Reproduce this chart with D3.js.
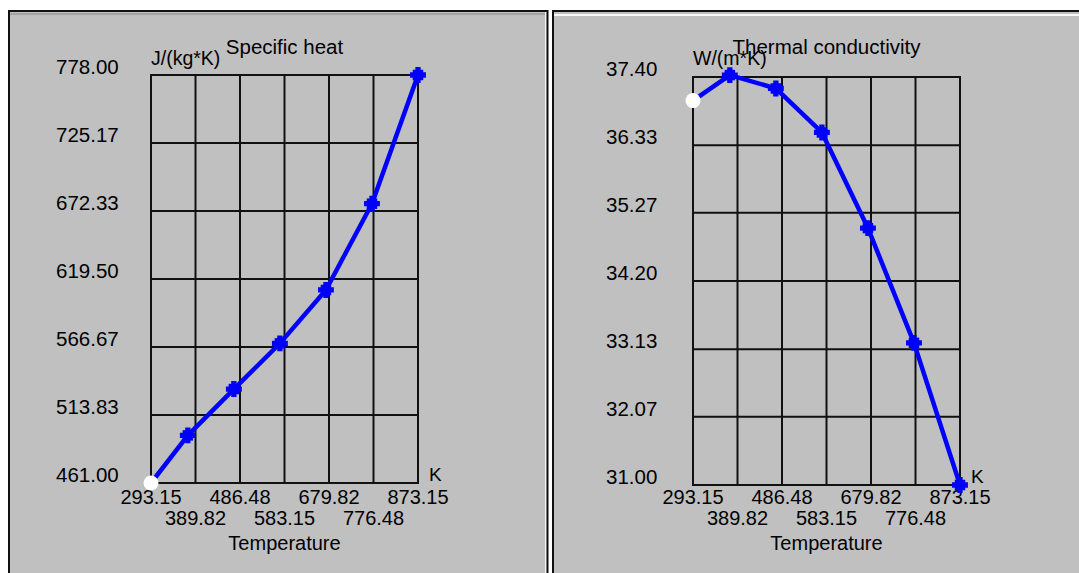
<!DOCTYPE html>
<html>
<head>
<meta charset="utf-8">
<script src="https://cdn.jsdelivr.net/npm/d3@7"></script>
<style>
  html, body { margin: 0; padding: 0; background: #ffffff; }
  svg { display: block; }
  text { font-family: "Liberation Sans", Arial, sans-serif; fill: #000; }
</style>
</head>
<body>
<svg id="chart" width="1079" height="573"></svg>
<script>
// Steel properties versus temperature (20 °C ... 600 °C)
const temperatures = [293.15, 373.15, 473.15, 573.15, 673.15, 773.15, 873.15];
const specificHeat = [461.0, 498.0, 534.0, 569.5, 611.0, 678.0, 778.0];
const thermalConductivity = [37.03, 37.43, 37.22, 36.53, 35.03, 33.23, 31.0];

// Axis tick labels
const temperatureTicks = ["293.15", "389.82", "486.48", "583.15", "679.82", "776.48", "873.15"];
const heatTicks = ["461.00", "513.83", "566.67", "619.50", "672.33", "725.17", "778.00"];
const conductivityTicks = ["31.00", "32.07", "33.13", "34.20", "35.27", "36.33", "37.40"];

// Panel layout
const panels = [
  {
    title: "Specific heat", unit: "J/(kg*K)",
    values: specificHeat, ticks: heatTicks,
    frame: { x: 8, y: 10, w: 540 },
    plot: { left: 151, right: 418, top: 75, bottom: 483 },
    labelX: 56
  },
  {
    title: "Thermal conductivity", unit: "W/(m*K)",
    values: thermalConductivity, ticks: conductivityTicks,
    frame: { x: 552, y: 10, w: 540 },
    plot: { left: 693, right: 960, top: 77, bottom: 485 },
    labelX: 606
  }
];

const svg = d3.select("#chart");

panels.forEach((p, pi) => {
  const g = svg.append("g");
  const f = p.frame;

  // Panel background and bevelled border
  g.append("rect").attr("x", f.x).attr("y", f.y).attr("width", f.w).attr("height", 600)
    .attr("fill", "#c0c0c0");
  if (pi === 0) {
    g.append("rect").attr("x", f.x + 2).attr("y", f.y + 3).attr("width", f.w - 4).attr("height", 2).attr("fill", "#a4a4a4");
    g.append("rect").attr("x", f.x + f.w - 3).attr("y", f.y + 2).attr("width", 1.5).attr("height", 600).attr("fill", "#f4f4f4");
    g.append("rect").attr("x", f.x).attr("y", f.y).attr("width", 2).attr("height", 600).attr("fill", "#111");
    g.append("rect").attr("x", f.x).attr("y", f.y).attr("width", f.w).attr("height", 2).attr("fill", "#111");
    g.append("rect").attr("x", f.x + f.w - 1.5).attr("y", f.y).attr("width", 2).attr("height", 600).attr("fill", "#111");
  } else {
    g.append("rect").attr("x", f.x + 2).attr("y", f.y + 4).attr("width", f.w).attr("height", 2).attr("fill", "#f8f8f8");
    g.append("rect").attr("x", f.x).attr("y", f.y).attr("width", 2).attr("height", 600).attr("fill", "#111");
    g.append("rect").attr("x", f.x).attr("y", f.y).attr("width", f.w).attr("height", 2).attr("fill", "#111");
  }

  const pl = p.plot;
  const tickNums = p.ticks.map(Number);
  const x = d3.scaleLinear()
    .domain([+temperatureTicks[0], +temperatureTicks[temperatureTicks.length - 1]])
    .range([pl.left, pl.right]);
  const y = d3.scaleLinear()
    .domain([tickNums[0], tickNums[tickNums.length - 1]])
    .range([pl.bottom, pl.top]);

  // Grid
  const grid = g.append("g").attr("stroke", "#111").attr("stroke-width", 2);
  temperatureTicks.forEach(t => {
    grid.append("line").attr("x1", x(+t)).attr("x2", x(+t))
      .attr("y1", y.range()[1]).attr("y2", y.range()[0]);
  });
  tickNums.forEach(v => {
    grid.append("line").attr("x1", pl.left - 1).attr("x2", pl.right + 1)
      .attr("y1", y(v)).attr("y2", y(v));
  });

  // Y tick labels
  g.append("g").selectAll("text").data(p.ticks).join("text")
    .attr("x", p.labelX).attr("y", d => y(+d) - 1)
    .attr("font-size", 20.5)
    .text(d => d);

  // X tick labels in two staggered rows
  g.append("g").selectAll("text").data(temperatureTicks).join("text")
    .attr("x", d => x(+d))
    .attr("y", (d, i) => i % 2 === 0 ? 504 : 525)
    .attr("text-anchor", "middle")
    .attr("font-size", 20)
    .text(d => d);

  // Axis captions
  g.append("text").attr("x", pl.right + 11).attr("y", pl.bottom - 2)
    .attr("font-size", 19).text("K");
  g.append("text").attr("x", (pl.left + pl.right) / 2).attr("y", 550)
    .attr("text-anchor", "middle").attr("font-size", 20).text("Temperature");
  g.append("text").attr("x", pl.left).attr("y", 65)
    .attr("font-size", 19.5).text(p.unit);
  g.append("text").attr("x", (pl.left + pl.right) / 2).attr("y", 54)
    .attr("text-anchor", "middle").attr("font-size", 20.5).text(p.title);

  // Series line
  const pts = temperatures.map((t, i) => [t, p.values[i]]);
  const line = d3.line().x(d => x(d[0])).y(d => y(d[1]));
  g.append("path").datum(pts).attr("d", line)
    .attr("fill", "none").attr("stroke", "#0000ff")
    .attr("stroke-width", 4.5).attr("stroke-linejoin", "round");

  // Markers: first point white circle, others blue blocks
  const sq = d3.symbol().type(d3.symbolSquare).size(110);
  const cr = d3.symbol().type(d3.symbolCross).size(140);
  pts.slice(1).forEach(d => {
    g.append("path").attr("d", sq()).attr("fill", "#0000ff")
      .attr("transform", `translate(${x(d[0])},${y(d[1])})`);
    g.append("path").attr("d", cr()).attr("fill", "#0000ff")
      .attr("transform", `translate(${x(d[0])},${y(d[1])})`);
  });
  g.append("circle").attr("cx", x(pts[0][0])).attr("cy", y(pts[0][1]))
    .attr("r", 7.5).attr("fill", "#ffffff");
});
</script>
</body>
</html>
